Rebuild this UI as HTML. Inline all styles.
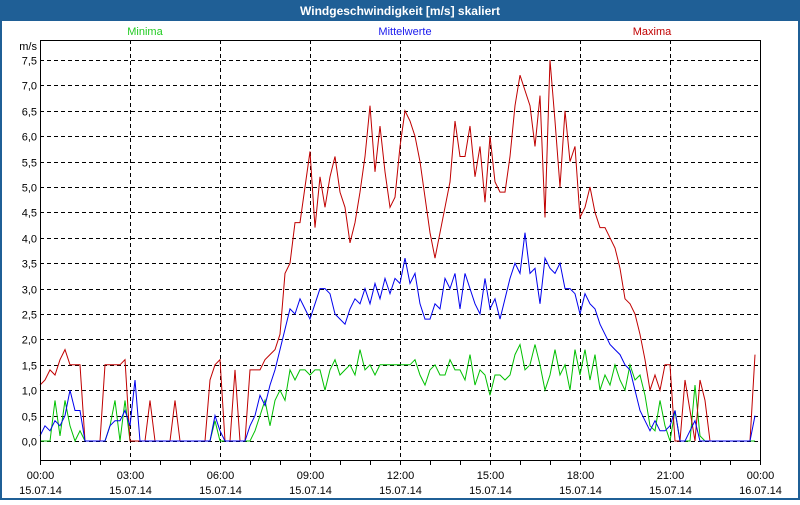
<!DOCTYPE html>
<html><head><meta charset="utf-8"><style>
body{margin:0;width:800px;height:500px;overflow:hidden;background:#fff;font-family:"Liberation Sans",sans-serif}
</style></head><body>
<svg id="s" width="800" height="500" xmlns="http://www.w3.org/2000/svg" font-family="Liberation Sans, sans-serif" font-size="11">
<rect x="0" y="0" width="800" height="500" fill="#1f5f96"/>
<rect x="2" y="21" width="796" height="477" fill="#fff"/>
<text x="400" y="15" fill="#fff" font-weight="bold" font-size="12" text-anchor="middle">Windgeschwindigkeit [m/s] skaliert</text>
<text x="145" y="35" fill="#22cc22" text-anchor="middle">Minima</text>
<text x="405" y="35" fill="#1a1aee" text-anchor="middle">Mittelwerte</text>
<text x="652" y="35" fill="#c00000" text-anchor="middle">Maxima</text>
<text x="37" y="50" fill="#000" text-anchor="end">m/s</text>
<g id="grid"></g>
<g id="series" fill="none" stroke-width="1"></g>
<rect x="40.5" y="40.5" width="720" height="420" fill="none" stroke="#000"/>
</svg>
<script>
const s=document.getElementById('grid');
const NS='http://www.w3.org/2000/svg';
function el(t,a,p,txt){const e=document.createElementNS(NS,t);for(const k in a)e.setAttribute(k,a[k]);if(txt)e.textContent=txt;(p||s).appendChild(e);return e;}
const y0=441,py=50.8;
for(let i=0;i<=15;i++){const v=i*0.5;const y=Math.round(y0-v*py)+0.5;
 el('line',{x1:40,x2:760,y1:y,y2:y,stroke:'#000','stroke-dasharray':'4,3'});
 el('text',{x:37,y:y+4,'text-anchor':'end',fill:'#000'},null,v.toFixed(1).replace('.',','));}
const times=['00:00','03:00','06:00','09:00','12:00','15:00','18:00','21:00','00:00'];
for(let h=0;h<=24;h++){const x=40+h*30+0.5;
 el('line',{x1:x,x2:x,y1:460,y2:465,stroke:'#000'});
 if(h%3==0){const i=h/3;
  if(h>0&&h<24)el('line',{x1:x,x2:x,y1:40,y2:460,stroke:'#000','stroke-dasharray':'4,3'});
  el('text',{x:x,y:479,'text-anchor':'middle',fill:'#000'},null,times[i]);
  el('text',{x:x,y:494,'text-anchor':'middle',fill:'#000'},null,i==8?'16.07.14':'15.07.14');}}
function poly(pts,col){let p=pts.map(a=>a[0]+','+(y0-a[1]*py).toFixed(1)).join(' ');
 el('polyline',{points:p,stroke:col},document.getElementById('series'));}
function seq(start,vals){return vals.map((v,i)=>[start+i*5,v]);}
const red=[[40,1.1],[45,1.2],[50,1.4],[55,1.3],[60,1.6],[65,1.8],[70,1.5],[75,1.5],[80,1.5],[85,0],[100,0],[105,1.5],[120,1.5],[125,1.6],[130,0],[145,0],[150,0.8],[155,0],[170,0],[175,0.8],[180,0],[205,0],[210,1.2],[215,1.5],[220,1.6],[225,0],[230,0],[235,1.4],[240,0],[245,0],[250,1.4],[260,1.4],[265,1.6],[270,1.7],[275,1.8],[280,2.1]].concat(seq(285,[3.3,3.5,4.3,4.3,5.0,5.7,4.2,5.2,4.6,5.2,5.6,4.9,4.6,3.9,4.3,4.9,5.6,6.6,5.3,6.2,5.3,4.6,4.8,5.8,6.5,6.3,6.0,5.5,4.8,4.1,3.6,4.1,4.6,5.1,6.3,5.6,5.6,6.2,5.2,5.8,4.7,6.0,5.1,4.9,4.9,5.6,6.6,7.2,6.9,6.6,5.8,6.8,4.4,7.5,6.3,5.0,6.5,5.5,5.8,4.4,4.6,5.0,4.5,4.2,4.2,4.0,3.8,3.4,2.8,2.7,2.5,2.1,1.6,1.0,1.3,1.0,1.5,1.5,0,0,1.2,0.6,0,1.2,0.8,0,0])).concat([[750,0],[755,1.7]]);
const blue=seq(40,[0.1,0.3,0.2,0.4,0.3,0.5,1.0,0.6,0.6,0,0,0,0,0,0.3,0.4,0.4,0.6,0.3,1.2,0]).concat([[205,0]]).concat(seq(210,[0,0.5,0.2,0,0,0,0,0,0.3,0.5,0.9,0.7,1.1,1.4,1.8,2.2,2.6,2.5,2.8,2.6,2.4,2.7,3.0,3.0,2.9,2.5,2.4,2.3,2.6,2.8,2.7,3.0,2.7,3.1,2.8,3.2,2.9,3.2,3.1,3.6,3.1,3.3,2.7,2.4,2.4,2.7,2.6,3.2,3.0,3.3,2.6,3.3,3.0,2.7,2.5,3.2,2.6,2.8,2.4,2.8,3.2,3.5,3.3,4.1,3.3,3.4,2.7,3.6,3.4,3.3,3.5,3.0,3.0,2.9,2.5,2.9,2.7,2.6,2.3,2.1,1.9,1.8,1.7,1.5,1.4,1.0,0.6,0.4,0.2,0.4,0.2,0.2,0.3,0.6,0,0,0.2,0.4,0,0])).concat([[750,0],[755,0.5]]);
const green=seq(40,[0,0,0,0.8,0.1,0.8,0.3,0,0.2,0]).concat([[105,0]]).concat(seq(110,[0.3,0.8,0,0.8,0])).concat([[210,0],[215,0.4],[220,0],[250,0]]).concat(seq(255,[0.2,0.5,0.8,0.3,0.8,1.0,0.8,1.4,1.2,1.4,1.4,1.3,1.4,1.4,1.0,1.4,1.6,1.3,1.4,1.5,1.3,1.8,1.4,1.5,1.3,1.5,1.5,1.5,1.5,1.5,1.5,1.5,1.6,1.3,1.1,1.4,1.5,1.3,1.3,1.6,1.4,1.4,1.2,1.7,1.1,1.4,1.3,0.9,1.3,1.3,1.2,1.3,1.7,1.9,1.4,1.5,1.9,1.5,1.0,1.3,1.8,1.3,1.5,1.0,1.8,1.3,1.8,1.2,1.7,1.0,1.3,1.1,1.5,1.2,1.0,1.5,1.2,1.3,0.9,0.3,0.2,0.8,0.3,0,0.6,0,0,0,1.1,0.1,0])).concat([[755,0]]);
poly(green,'#00c000');poly(red,'#c00000');poly(blue,'#0000ee');
</script>
</body></html>
